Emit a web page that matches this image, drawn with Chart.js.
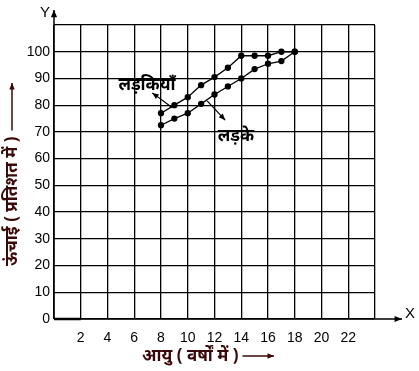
<!DOCTYPE html>
<html>
<head>
<meta charset="utf-8">
<script src="https://cdn.jsdelivr.net/npm/chart.js@4"></script>
<style>
  html, body { margin: 0; padding: 0; background: #fff; }
  canvas { display: block; }
</style>
</head>
<body>
<canvas id="grafico" width="419" height="371"></canvas>
<script>
"use strict";

/* ── DADOS ─────────────────────────────── */
const idades    = [8, 9, 10, 11, 12, 13, 14, 15, 16, 17, 18];
const meninas   = [77, 80, 83, 87.5, 90.5, 94, 98.5, 98.5, 98.5, 100, 100];
const meninos   = [72.5, 75, 77, 80.5, 84, 87, 90, 93.5, 95.5, 96.5, 100];
const xTicks    = [2, 4, 6, 8, 10, 12, 14, 16, 18, 20, 22];
const yTicks    = [0, 10, 20, 30, 40, 50, 60, 70, 80, 90, 100];

const tituloX   = "आयु ( वर्षों में )";
const tituloY   = "ऊंचाई ( प्रतिशत में )";
const rotMeninas = "लड़कियाँ";
const rotMeninos = "लड़के";

/* anotações em unidades do gráfico: texto, cauda e ponta da seta */
const notaMeninas = { texto: rotMeninas, tx: 6.95, ty: 87.5, x1: 8.85, y1: 79, x2: 7.35, y2: 84.6 };
const notaMeninos = { texto: rotMeninos, tx: 13.6, ty: 68.4, x1: 11.45, y1: 81.6, x2: 12.8, y2: 74.4 };

const FONTE_NUM = "'Liberation Sans', Arial, sans-serif";
const FONTE_HI  = "'Noto Sans', 'DejaVu Sans', sans-serif";
const COR_TIT   = "#3a0808";

/* ── HELPERS ───────────────────────────── */
function seta(ctx, x1, y1, x2, y2, cab) {
  const a = Math.atan2(y2 - y1, x2 - x1);
  ctx.beginPath();
  ctx.moveTo(x1, y1);
  ctx.lineTo(x2, y2);
  ctx.stroke();
  ctx.beginPath();
  ctx.moveTo(x2, y2);
  ctx.lineTo(x2 - cab * Math.cos(a - 0.4), y2 - cab * Math.sin(a - 0.4));
  ctx.lineTo(x2 - cab * Math.cos(a + 0.4), y2 - cab * Math.sin(a + 0.4));
  ctx.closePath();
  ctx.fill();
}

function nota(ctx, sx, sy, n) {
  ctx.font = "bold 17px " + FONTE_HI;
  ctx.textAlign = "center";
  ctx.textBaseline = "middle";
  ctx.fillStyle = "#000";
  ctx.fillText(n.texto, sx.getPixelForValue(n.tx), sy.getPixelForValue(n.ty));
  ctx.lineWidth = 1.2;
  ctx.strokeStyle = "#000";
  seta(ctx, sx.getPixelForValue(n.x1), sy.getPixelForValue(n.y1),
            sx.getPixelForValue(n.x2), sy.getPixelForValue(n.y2), 7);
}

/* ── PLUGIN: eixos, títulos, anotações ─── */
const extras = {
  id: "extras",
  afterDraw(chart) {
    const ctx = chart.ctx;
    const a = chart.chartArea;
    const sx = chart.scales.x, sy = chart.scales.y;
    ctx.save();
    ctx.fillStyle = "#000";
    ctx.strokeStyle = "#000";
    ctx.lineWidth = 1.5;

    // eixos com seta
    seta(ctx, a.left, a.bottom, a.right + 27, a.bottom, 8);
    seta(ctx, a.left, a.bottom, a.left, a.top - 15, 8);
    ctx.lineWidth = 2.5;
    ctx.beginPath();
    ctx.moveTo(a.left, a.bottom);
    ctx.lineTo(sx.getPixelForValue(2), a.bottom);
    ctx.stroke();

    ctx.font = "15px " + FONTE_NUM;
    ctx.textBaseline = "middle";
    ctx.textAlign = "left";
    ctx.fillText("X", a.right + 30, a.bottom - 5);
    ctx.textAlign = "right";
    ctx.fillText("Y", a.left - 4, a.top - 12);

    // título X
    ctx.font = "bold 17px " + FONTE_HI;
    ctx.fillStyle = COR_TIT;
    ctx.strokeStyle = COR_TIT;
    ctx.textAlign = "left";
    ctx.fillText(tituloX, 142, 356);
    const wx = ctx.measureText(tituloX).width;
    ctx.lineWidth = 1.5;
    seta(ctx, 142 + wx + 4, 356, 274, 356, 7);

    // título Y
    ctx.save();
    ctx.translate(12, 266);
    ctx.rotate(-Math.PI / 2);
    ctx.fillText(tituloY, 0, 0);
    const wy = ctx.measureText(tituloY).width;
    seta(ctx, wy + 6, 0, 183, 0, 7);
    ctx.restore();

    // anotações
    nota(ctx, sx, sy, notaMeninas);
    nota(ctx, sx, sy, notaMeninos);
    ctx.restore();
  }
};

/* ── GRÁFICO ───────────────────────────── */
const serie = (dados) => idades.map((x, i) => ({ x: x, y: dados[i] }));

new Chart(document.getElementById("grafico").getContext("2d"), {
  type: "line",
  data: {
    datasets: [
      { label: rotMeninas, data: serie(meninas), borderColor: "#000", backgroundColor: "#000",
        borderWidth: 1.3, pointRadius: 2.5, pointHoverRadius: 2.5, tension: 0 },
      { label: rotMeninos, data: serie(meninos), borderColor: "#000", backgroundColor: "#000",
        borderWidth: 1.3, pointRadius: 2.5, pointHoverRadius: 2.5, tension: 0 }
    ]
  },
  options: {
    responsive: false,
    animation: false,
    devicePixelRatio: 1,
    layout: { padding: { top: 25, right: 44, left: 0, bottom: 0 } },
    plugins: { legend: { display: false }, tooltip: { enabled: false } },
    scales: {
      x: {
        type: "linear", min: 0, max: 24,
        afterFit: s => { s.height = 52; },
        afterBuildTicks: s => { s.ticks = xTicks.map(v => ({ value: v })).concat([{ value: 0 }, { value: 24 }]); },
        ticks: {
          color: "#000", padding: 11, maxRotation: 0, autoSkip: false,
          font: { family: FONTE_NUM, size: 14 },
          callback: v => xTicks.includes(v) ? String(v) : ""
        },
        grid: { color: "#000", lineWidth: 1.3, drawTicks: false },
        border: { display: false }
      },
      y: {
        min: 0, max: 110,
        afterFit: s => { s.width = 54; },
        afterBuildTicks: s => { s.ticks = yTicks.map(v => ({ value: v })).concat([{ value: 110 }]); },
        ticks: {
          color: "#000", padding: 4, autoSkip: false,
          font: { family: FONTE_NUM, size: 14 },
          callback: v => yTicks.includes(v) ? String(v) : ""
        },
        grid: { color: "#000", lineWidth: 1.3, drawTicks: false },
        border: { display: false }
      }
    }
  },
  plugins: [extras]
});
</script>
</body>
</html>
